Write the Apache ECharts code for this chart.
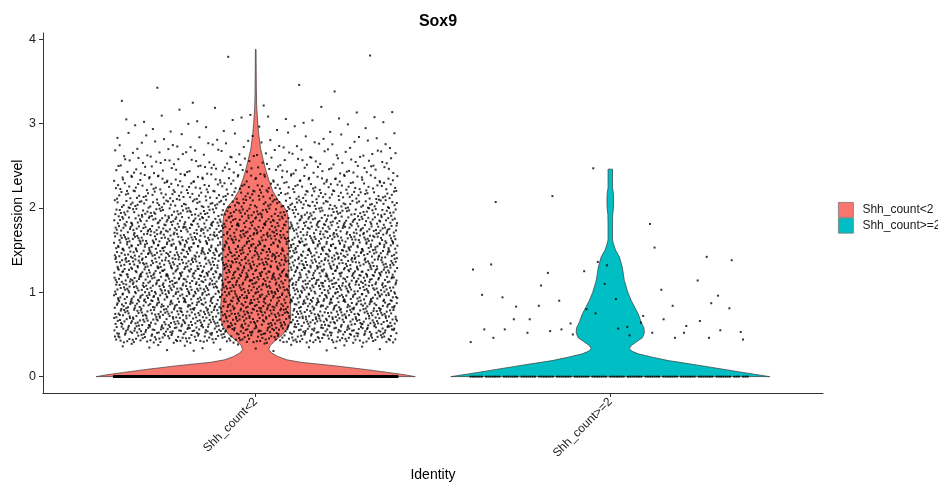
<!DOCTYPE html>
<html><head><meta charset="utf-8">
<script src="https://cdn.jsdelivr.net/npm/echarts@6/dist/echarts.min.js"></script>
<style>html,body{margin:0;padding:0;background:#fff}#c{width:938px;height:484px}</style>
</head><body><div id="c"></div>
<script>
// ---------------- data ----------------
const categories = ['Shh_count<2', 'Shh_count>=2'];
const yTicks = [0, 1, 2, 3, 4];
const fillColors = ['#F8766D', '#00BFC4'];

// violin outlines: y levels and relative half widths (1 = widest, scale="width")
const violin1Y = [0, 0.02, 0.05, 0.09, 0.13, 0.17, 0.20, 0.24, 0.28, 0.32, 0.37, 0.42, 0.50, 0.60, 0.70, 0.85, 1.00, 1.20, 1.40, 1.60, 1.80, 1.92, 2.00, 2.10, 2.20, 2.33, 2.45, 2.57, 2.70, 2.87, 3.00, 3.21, 3.40, 3.60, 3.88];
const violin1W = [1.000, 0.940, 0.828, 0.665, 0.489, 0.282, 0.194, 0.138, 0.100, 0.082, 0.091, 0.119, 0.169, 0.207, 0.219, 0.219, 0.213, 0.207, 0.207, 0.207, 0.207, 0.201, 0.182, 0.138, 0.107, 0.082, 0.063, 0.047, 0.031, 0.019, 0.013, 0.006, 0.004, 0.003, 0.002];
const violin2Y = [0, 0.02, 0.05, 0.10, 0.15, 0.19, 0.23, 0.27, 0.30, 0.33, 0.37, 0.42, 0.46, 0.52, 0.58, 0.64, 0.74, 0.82, 0.90, 1.00, 1.14, 1.30, 1.42, 1.50, 1.58, 1.62, 1.80, 1.92, 2.00, 2.10, 2.18, 2.24, 2.35, 2.46];
const violin2W = [1.000, 0.931, 0.830, 0.667, 0.503, 0.365, 0.264, 0.176, 0.138, 0.119, 0.132, 0.170, 0.201, 0.214, 0.211, 0.195, 0.176, 0.154, 0.132, 0.110, 0.088, 0.075, 0.057, 0.033, 0.019, 0.014, 0.014, 0.015, 0.020, 0.021, 0.019, 0.014, 0.014, 0.014];

// group 1 non-zero cells: counts per 0.1-wide expression bin, starting at 0.3
const g1BinStart = [0.3, 0.4, 0.5, 0.6, 0.7, 0.8, 0.9, 1.0, 1.1, 1.2, 1.3, 1.4, 1.5, 1.6, 1.7, 1.8, 1.9, 2.0, 2.1, 2.2, 2.3, 2.4, 2.5, 2.6, 2.7, 2.8, 2.9, 3.0, 3.1, 3.2, 3.3, 3.4, 3.5, 3.6, 3.7, 3.8];
const g1BinCount = [20, 145, 175, 180, 180, 180, 180, 180, 180, 178, 176, 174, 170, 165, 158, 148, 135, 118, 100, 83, 68, 54, 43, 33, 24, 17, 12, 13, 6, 3, 1, 2, 0, 0, 1, 1];
// group 2 non-zero cells: expression values
const g2Values = [2.47, 1.81, 1.42, 1.33, 1.23, 1.10, 1.03, 0.96, 0.94, 0.90, 0.92, 0.84, 0.81, 0.68, 0.63, 0.59, 0.52, 0.53, 0.41, 0.52, 1.25, 0.64, 1.14, 0.97, 0.84, 0.75, 0.52, 0.46, 0.46, 0.54, 1.32, 0.68, 0.55, 0.56, 0.56, 0.57, 0.46, 1.38, 0.83, 0.50, 0.49, 0.60, 0.44, 1.27, 0.68, 0.80, 0.72, 0.66, 0.56, 1.08, 1.36, 1.53, 0.87, 2.07, 2.14];
// cells with zero expression in each group
const zeroCounts = [2500, 110];

// ---------------- layout ----------------
const FONT = 'Liberation Sans, Arial, sans-serif';
const HALF = 0.45;     // violin max half width (x units)
const JITTER = 0.4;    // geom_jitter half width
const BIN = 0.1;
// Halton sequence: deterministic, evenly spread placement (jitter layout only)
function halton(i, base) {
  let f = 1, r = 0;
  while (i > 0) { f /= base; r += f * (i % base); i = Math.floor(i / base); }
  return r;
}

const points = [];
let idx = 0;
g1BinCount.forEach((n, b) => {
  for (let k = 0; k < n; k++) {
    idx++;
    points.push([1 + (2 * halton(idx, 2) - 1) * JITTER, g1BinStart[b] + halton(idx, 3) * BIN]);
  }
});
g2Values.forEach((y, k) => {
  points.push([2 + (2 * halton(k + 7, 5) - 1) * JITTER, y]);
});
zeroCounts.forEach((n, g) => {
  for (let k = 0; k < n; k++) {
    points.push([g + 1 + (2 * halton(k + 1, 2) - 1) * JITTER, 0]);
  }
});

function violinSeries(i, ys, ws) {
  return {
    type: 'custom', name: categories[i], z: 2, silent: true,
    itemStyle: { color: fillColors[i] },
    data: [[i + 1, 0]],
    renderItem(params, api) {
      const c = i + 1, right = [], left = [];
      for (let k = 0; k < ys.length; k++) {
        right.push(api.coord([c + ws[k] * HALF, ys[k]]));
        left.push(api.coord([c - ws[k] * HALF, ys[k]]));
      }
      return {
        type: 'polygon',
        shape: { points: right.concat(left.reverse()) },
        style: { fill: fillColors[i], stroke: '#3a3a3a', lineWidth: 0.7 }
      };
    }
  };
}

const chart = echarts.init(document.getElementById('c'), null, { renderer: 'canvas' });
chart.setOption({
  animation: false,
  backgroundColor: '#fff',
  title: {
    text: 'Sox9', left: 433, top: 9, textAlign: 'center',
    textStyle: { fontFamily: FONT, fontSize: 16, fontWeight: 'bold', color: '#000' }
  },
  legend: {
    orient: 'vertical', left: 838, top: 202, itemWidth: 15, itemHeight: 15, itemGap: 0,
    padding: 0, icon: 'rect',
    textStyle: { fontFamily: FONT, fontSize: 12, color: '#1a1a1a', padding: [0, 0, 0, 4] },
    data: categories.map((n, i) => ({ name: n, itemStyle: { color: fillColors[i], borderColor: '#7a7a7a', borderWidth: 0.8 } }))
  },
  grid: { left: 43, right: 115, top: 33, bottom: 91 },
  xAxis: {
    type: 'value', min: 0.4, max: 2.6,
    splitLine: { show: false },
    axisLine: { onZero: false, lineStyle: { color: '#333', width: 1 } },
    axisTick: { customValues: [1, 2], length: 4, lineStyle: { color: '#333' } },
    axisLabel: {
      customValues: [1, 2], rotate: 45, margin: 7,
      fontFamily: FONT, fontSize: 12, color: '#222',
      formatter: v => categories[Math.round(v) - 1]
    }
  },
  yAxis: {
    type: 'value', min: -0.194, max: 4.074,
    splitLine: { show: false },
    axisLine: { show: true, onZero: false, lineStyle: { color: '#333', width: 1 } },
    axisTick: { show: true, customValues: yTicks, length: 4, lineStyle: { color: '#333' } },
    axisLabel: { customValues: yTicks, margin: 7, fontFamily: FONT, fontSize: 12.5, color: '#222' }
  },
  graphic: [
    { type: 'text', x: 18, y: 213, rotation: Math.PI / 2,
      style: { text: 'Expression Level', font: '14px ' + FONT, fill: '#000', align: 'center', verticalAlign: 'middle', textAlign: 'center', textVerticalAlign: 'middle' } },
    { type: 'text', x: 433, y: 475,
      style: { text: 'Identity', font: '14px ' + FONT, fill: '#000', align: 'center', verticalAlign: 'middle', textAlign: 'center', textVerticalAlign: 'middle' } }
  ],
  series: [
    violinSeries(0, violin1Y, violin1W),
    violinSeries(1, violin2Y, violin2W),
    {
      type: 'scatter', name: 'cells', z: 5, silent: true, progressive: 0,
      symbol: 'rect', symbolSize: 2,
      itemStyle: { color: '#000' },
      data: points
    }
  ]
});
</script>
</body></html>
